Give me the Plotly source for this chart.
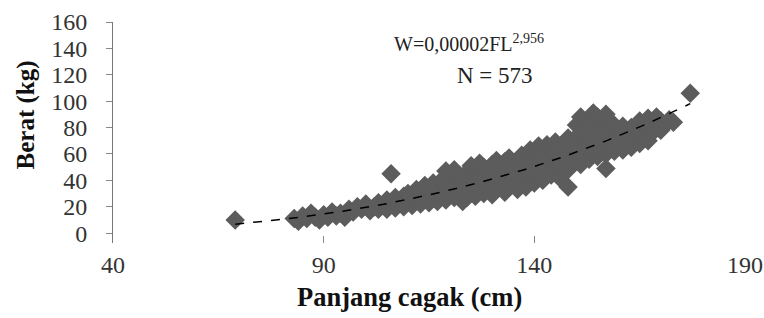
import numpy as np
import plotly.graph_objects as go

# Fork length (cm) and weight (kg)
panjang_cagak = [
    69,
    83, 84, 85, 86, 87, 88, 89, 90, 91, 92, 93, 94, 95,
    96, 97, 98, 99, 100, 101, 102, 103, 103,
    104, 105, 105, 106, 107, 107, 108, 109, 109, 110, 110,
    106,
    111, 111, 112, 112, 113, 113, 114, 114, 115, 115, 116, 116, 117, 117,
    118, 118, 119, 119, 119, 120, 120, 121, 121, 121, 122, 122, 123, 123, 123,
    124, 124, 124, 125, 125, 125, 126, 126, 126, 127, 127, 127, 128, 128, 128, 129, 129, 130, 130, 130,
    131, 131, 131, 132, 132, 133, 133, 133, 134, 134, 134, 135, 135, 136, 136, 136, 137, 137, 137,
    138, 138, 138, 139, 139, 139, 140, 140, 140, 141, 141, 141,
    142, 142, 142, 143, 143, 143, 144, 144, 144, 145, 145, 145, 146, 146, 146, 147, 147,
    148,
    148, 148, 148, 149, 149, 150, 150, 150, 151, 151, 151, 151, 152, 152, 152,
    153, 153, 153, 153, 154, 154, 154, 154, 155, 155, 155, 155, 156, 156, 156,
    157, 157, 157, 157, 158, 158, 158, 157,
    159, 159, 159, 160, 160, 161, 161, 161, 162, 162, 163, 163, 163, 164, 164,
    165, 165, 165, 166, 166, 167, 167, 167, 168, 168, 169, 169, 170, 170,
    171, 172, 173,
    177,
]
berat = [
    10,
    11, 9, 13, 11, 15, 12, 10, 14, 12, 16, 13, 15, 12,
    18, 16, 20, 18, 22, 17, 20, 23, 18,
    21, 25, 18, 22, 27, 19, 23, 28, 20, 25, 30,
    45,
    21, 29, 26, 33, 22, 30, 36, 27, 23, 32, 38, 28, 24, 34,
    30, 40, 25, 36, 47, 32, 43, 27, 38, 48, 34, 44, 24, 30, 40,
    27, 36, 46, 32, 42, 51, 28, 38, 48, 34, 44, 53, 30, 40, 50, 36, 46, 29, 41, 52,
    33, 45, 55, 38, 49, 31, 42, 54, 35, 46, 57, 39, 50, 33, 44, 55, 37, 48, 59,
    35, 42, 52, 46, 57, 63, 38, 50, 60, 43, 54, 66,
    40, 48, 58, 52, 62, 67, 44, 56, 64, 48, 60, 69, 42, 52, 65, 56, 68,
    35,
    48, 60, 72, 53, 65, 58, 70, 82, 52, 63, 76, 88, 58, 68, 80,
    56, 64, 74, 86, 60, 70, 81, 91, 58, 66, 76, 88, 62, 72, 83,
    60, 69, 78, 90, 64, 74, 85, 49,
    62, 70, 80, 66, 76, 63, 72, 81, 67, 77, 65, 74, 80, 70, 79,
    68, 76, 85, 73, 82, 70, 79, 87, 76, 84, 80, 88, 78, 85,
    82, 86, 84,
    106,
]

x_ticks = [40, 90, 140, 190]
y_ticks = [0, 20, 40, 60, 80, 100, 120, 140, 160]

# Power trendline fitted on the data (as the spreadsheet does)
xa = np.array(panjang_cagak, dtype=float)
ya = np.array(berat, dtype=float)
b, lna = np.polyfit(np.log(xa), np.log(ya), 1)
xt = np.linspace(xa.min(), xa.max(), 200)
yt = np.exp(lna) * xt ** b

serif = "Liberation Serif, Times New Roman, serif"

fig = go.Figure()
fig.add_trace(go.Scatter(
    x=panjang_cagak, y=berat, mode="markers",
    marker=dict(symbol="diamond", size=15, color="#5c5c5c", line=dict(width=0)),
    showlegend=False, hoverinfo="x+y",
))
fig.add_trace(go.Scatter(
    x=xt, y=yt, mode="lines",
    line=dict(color="black", width=1.5, dash="dash"),
    showlegend=False, hoverinfo="skip",
))

fig.update_layout(
    width=764, height=318,
    margin=dict(l=113, r=19, t=22, b=75),
    paper_bgcolor="white", plot_bgcolor="white",
    font=dict(family=serif, color="#222222", size=24),
    xaxis=dict(
        range=[40, 190], tickvals=x_ticks, ticktext=[str(v) for v in x_ticks],
        showline=False, showgrid=False, zeroline=False, automargin=False,
        ticks="inside", ticklen=7, tickcolor="#888888", tickwidth=1,
        ticklabelstandoff=5,
        tickfont=dict(family=serif, size=24, color="#333333"),
    ),
    yaxis=dict(
        range=[-7.5, 160], tickvals=y_ticks, ticktext=[str(v) for v in y_ticks],
        showline=True, linecolor="#777777", linewidth=1,
        showgrid=False, zeroline=False, automargin=False,
        ticks="outside", ticklen=6, tickcolor="#888888", tickwidth=1,
        ticklabelstandoff=14,
        tickfont=dict(family=serif, size=24, color="#333333"),
    ),
    annotations=[
        dict(text="<b>Panjang cagak (cm)</b>", xref="x", yref="paper",
             x=110.3, y=-0.244, xanchor="center", yanchor="middle",
             showarrow=False, font=dict(family=serif, size=26.5, color="#111111")),
        dict(text="<b>Berat (kg)</b>", xref="paper", yref="paper",
             x=-0.137, y=0.579, xanchor="center", yanchor="middle", textangle=-90,
             showarrow=False, font=dict(family=serif, size=25, color="#111111")),
        dict(text="W=0,00002FL<sup>2,956</sup>", xref="x", yref="y",
             x=124.5, y=144, xanchor="center", yanchor="middle",
             showarrow=False, font=dict(family=serif, size=20, color="#222222")),
        dict(text="N = 573", xref="x", yref="y",
             x=130.7, y=119.7, xanchor="center", yanchor="middle",
             showarrow=False, font=dict(family=serif, size=23, color="#222222")),
    ],
)

fig.write_html("out.html", config={"displayModeBar": False},
               post_script="document.body.style.margin='0px';")
